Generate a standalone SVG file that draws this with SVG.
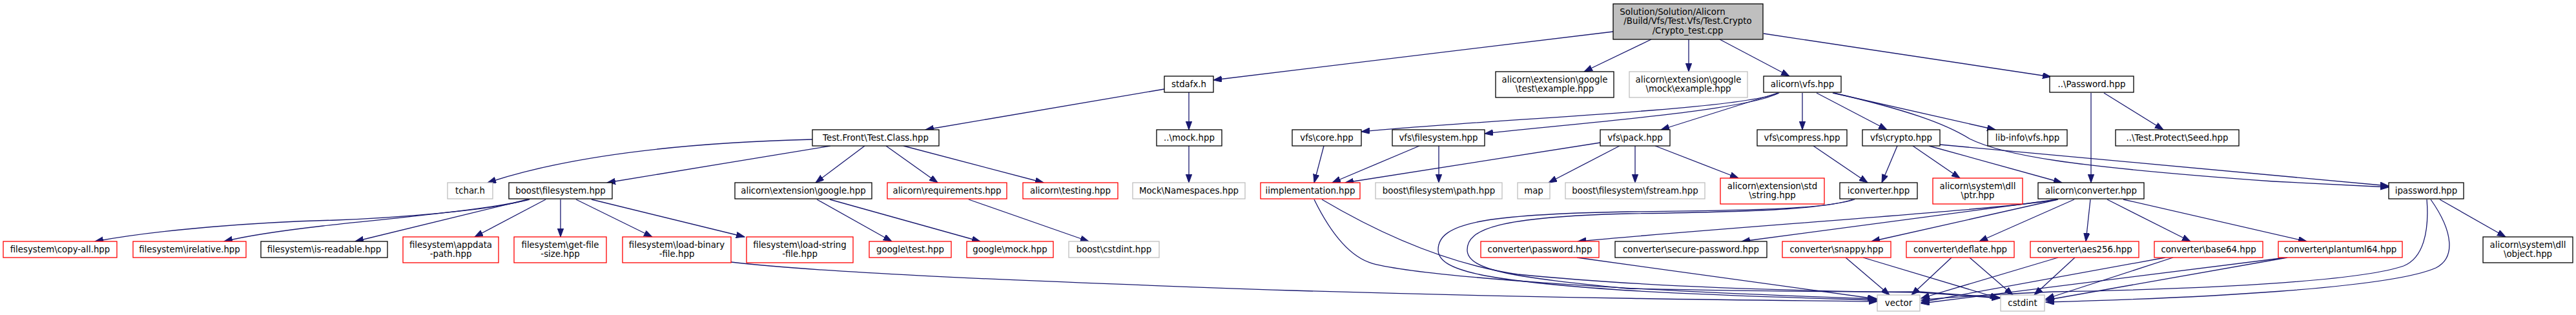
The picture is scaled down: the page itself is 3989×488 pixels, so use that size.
<svg xmlns="http://www.w3.org/2000/svg" width="3989" height="488" viewBox="0 0 3989 488">
<style>
.n rect{fill:#fff;stroke:#000;stroke-width:1.3}
.n.r rect{stroke:#ff0000}
.n.g rect{stroke:#bfbfbf}
.n.m rect{fill:#bfbfbf}
.n text{font-family:"DejaVu Sans",sans-serif;font-size:13.33px;fill:#000;text-anchor:middle}
#edges path{fill:none;stroke:#191970;stroke-width:1.3;marker-end:url(#a)}
</style>
<defs>
<marker id="a" markerUnits="userSpaceOnUse" markerWidth="14" markerHeight="10" refX="13" refY="4.7" orient="auto">
<path d="M0,0 L13,4.7 L0,9.4 z" fill="#191970" stroke="#191970" stroke-width="1"/>
</marker>
</defs>
<rect width="3989" height="488" fill="#fff"/>
<g id="edges">
<path d="M2498,49 L1879,124"/>
<path d="M2557,61 L2453,111"/>
<path d="M2615,61 L2615,111"/>
<path d="M2663,61 L2771,118"/>
<path d="M2731,52 L3176,119"/>
<path d="M1803,138 L1433,201"/>
<path d="M1841,143 L1841,201"/>
<path d="M1841,226 L1841,283"/>
<path d="M1258,216 C1100,220 900,235 755,283"/>
<path d="M1286,226 L940,283"/>
<path d="M1339,226 L1263,283"/>
<path d="M1372,226 L1452,283"/>
<path d="M1399,226 L1616,283"/>
<path d="M818,309 C760,327 600,338 520,341 C400,344 250,355 147,374"/>
<path d="M820,309 C760,325 560,343 500,350 C430,358 380,366 347,374"/>
<path d="M817,309 L550,374"/>
<path d="M845,309 L735,367"/>
<path d="M868,309 L868,367"/>
<path d="M892,309 L1010,367"/>
<path d="M916,309 L1153,367"/>
<path d="M1265,309 L1381,374"/>
<path d="M1285,309 L1518,374"/>
<path d="M1500,309 L1686,374"/>
<path d="M1132,406 C1250,420 1500,433 2000,450 C2400,462 2700,465 2907,467"/>
<path d="M2753,144 C2700,170 2300,185 2108,204"/>
<path d="M2755,144 C2700,172 2450,190 2299,207"/>
<path d="M2753,144 L2572,201"/>
<path d="M2791,144 L2791,201"/>
<path d="M2813,144 L2922,201"/>
<path d="M2838,144 L3090,201"/>
<path d="M2840,144 C2950,170 3010,190 3050,215 C3100,240 3200,258 3520,281 L3699,290"/>
<path d="M3004,224 L3699,288"/>
<path d="M2987,226 L3193,283"/>
<path d="M2938,226 L2914,283"/>
<path d="M2962,226 L3035,276"/>
<path d="M2808,226 L2892,283"/>
<path d="M2478,221 L2083,283"/>
<path d="M2508,226 L2398,283"/>
<path d="M2532,226 L2532,283"/>
<path d="M2563,226 L2692,276"/>
<path d="M2050,226 L2035,283"/>
<path d="M2198,226 L2063,283"/>
<path d="M2228,226 L2228,283"/>
<path d="M3238,144 L3238,283"/>
<path d="M3258,144 L3350,201"/>
<path d="M3212,309 L3065,374"/>
<path d="M3237,309 L3230,374"/>
<path d="M3263,309 L3392,374"/>
<path d="M3288,309 L3572,374"/>
<path d="M3187,309 L2898,374"/>
<path d="M3186,309 L2697,374"/>
<path d="M3185,309 C3100,325 2700,350 2443,374"/>
<path d="M3778,309 L3880,367"/>
<path d="M2035,309 C2060,360 2090,398 2125,408 C2200,428 2500,450 2907,463"/>
<path d="M2047,309 C2150,370 2250,410 2350,425 C2600,450 2900,452 2973,453 L3097,462"/>
<path d="M2872,309 C2830,322 2750,326 2520,328 C2300,332 2227,345 2227,387 C2227,420 2300,435 2520,450 C2700,460 2850,463 2907,465"/>
<path d="M2869,309 C2830,322 2750,328 2520,331 C2320,336 2272,355 2272,387 C2272,420 2350,430 2520,447 C2800,453 2950,452 2973,452 L3097,461"/>
<path d="M2442,399 L2905,463"/>
<path d="M2858,399 L2926,457"/>
<path d="M2885,399 L3095,462"/>
<path d="M3022,399 L2960,457"/>
<path d="M3050,399 L3117,457"/>
<path d="M3187,399 L2975,462"/>
<path d="M3213,399 L3150,457"/>
<path d="M3353,399 L2975,468"/>
<path d="M3365,399 L3168,463"/>
<path d="M3540,399 L2975,470"/>
<path d="M3542,399 L3168,465"/>
<path d="M3758,309 C3762,360 3752,400 3722,412 C3650,437 3400,448 3180,452 C3100,455 3000,462 2975,465"/>
<path d="M3764,309 C3800,360 3802,400 3772,415 C3700,447 3400,462 3168,468"/>
</g>
<g id="main" class="n m"><rect x="2498" y="6" width="232" height="55"/><text x="2590" y="22.5">Solution/Solution/Alicorn</text><text x="2613.5" y="37">/Build/Vfs/Test.Vfs/Test.Crypto</text><text x="2613.5" y="51.5">/Crypto_test.cpp</text></g>
<g id="stdafx" class="n"><rect x="1803" y="118" width="76" height="25"/><text x="1841" y="134.5">stdafx.h</text></g>
<g id="gtest_example" class="n"><rect x="2316" y="111" width="183" height="40"/><text x="2407.5" y="127.5">alicorn\extension\google</text><text x="2407.5" y="141.5">\test\example.hpp</text></g>
<g id="gmock_example" class="n g"><rect x="2523" y="111" width="183" height="40"/><text x="2614.5" y="127.5">alicorn\extension\google</text><text x="2614.5" y="141.5">\mock\example.hpp</text></g>
<g id="vfs" class="n"><rect x="2731" y="118" width="120" height="25"/><text x="2791" y="134.5">alicorn\vfs.hpp</text></g>
<g id="password_dd" class="n"><rect x="3174" y="118" width="130" height="25"/><text x="3239" y="134.5">..\Password.hpp</text></g>
<g id="testclass" class="n"><rect x="1258" y="201" width="196" height="25"/><text x="1356" y="217.5">Test.Front\Test.Class.hpp</text></g>
<g id="mock_dd" class="n"><rect x="1791" y="201" width="101" height="25"/><text x="1841.5" y="217.5">..\mock.hpp</text></g>
<g id="vfs_core" class="n"><rect x="2001" y="201" width="107" height="25"/><text x="2054.5" y="217.5">vfs\core.hpp</text></g>
<g id="vfs_filesystem" class="n"><rect x="2156" y="201" width="143" height="25"/><text x="2227.5" y="217.5">vfs\filesystem.hpp</text></g>
<g id="vfs_pack" class="n"><rect x="2478" y="201" width="108" height="25"/><text x="2532" y="217.5">vfs\pack.hpp</text></g>
<g id="vfs_compress" class="n"><rect x="2721" y="201" width="139" height="25"/><text x="2790.5" y="217.5">vfs\compress.hpp</text></g>
<g id="vfs_crypto" class="n"><rect x="2884" y="201" width="120" height="25"/><text x="2944" y="217.5">vfs\crypto.hpp</text></g>
<g id="libinfo_vfs" class="n"><rect x="3078" y="201" width="123" height="25"/><text x="3139.5" y="217.5">lib-info\vfs.hpp</text></g>
<g id="seed" class="n"><rect x="3276" y="201" width="191" height="25"/><text x="3371.5" y="217.5">..\Test.Protect\Seed.hpp</text></g>
<g id="tchar" class="n g"><rect x="693" y="283" width="70" height="25"/><text x="728" y="299.5">tchar.h</text></g>
<g id="boost_filesystem" class="n"><rect x="788" y="283" width="160" height="25"/><text x="868" y="299.5">boost\filesystem.hpp</text></g>
<g id="ext_google" class="n"><rect x="1138" y="283" width="212" height="25"/><text x="1244" y="299.5">alicorn\extension\google.hpp</text></g>
<g id="requirements" class="n r"><rect x="1374" y="283" width="185" height="25"/><text x="1466.5" y="299.5">alicorn\requirements.hpp</text></g>
<g id="testing" class="n r"><rect x="1584" y="283" width="147" height="25"/><text x="1657.5" y="299.5">alicorn\testing.hpp</text></g>
<g id="mock_namespaces" class="n g"><rect x="1754" y="283" width="174" height="25"/><text x="1841" y="299.5">Mock\Namespaces.hpp</text></g>
<g id="iimplementation" class="n r"><rect x="1952" y="283" width="154" height="25"/><text x="2029" y="299.5">iimplementation.hpp</text></g>
<g id="boost_fs_path" class="n g"><rect x="2130" y="283" width="196" height="25"/><text x="2228" y="299.5">boost\filesystem\path.hpp</text></g>
<g id="map" class="n g"><rect x="2350" y="283" width="50" height="25"/><text x="2375" y="299.5">map</text></g>
<g id="boost_fs_fstream" class="n g"><rect x="2424" y="283" width="216" height="25"/><text x="2532" y="299.5">boost\filesystem\fstream.hpp</text></g>
<g id="ext_std_string" class="n r"><rect x="2664" y="276" width="161" height="40"/><text x="2744.5" y="292.5">alicorn\extension\std</text><text x="2744.5" y="306.5">\string.hpp</text></g>
<g id="iconverter" class="n"><rect x="2849" y="283" width="120" height="25"/><text x="2909" y="299.5">iconverter.hpp</text></g>
<g id="dll_ptr" class="n r"><rect x="2993" y="276" width="139" height="40"/><text x="3062.5" y="292.5">alicorn\system\dll</text><text x="3062.5" y="306.5">\ptr.hpp</text></g>
<g id="converter" class="n"><rect x="3156" y="283" width="164" height="25"/><text x="3238" y="299.5">alicorn\converter.hpp</text></g>
<g id="ipassword" class="n"><rect x="3699" y="283" width="116" height="25"/><text x="3757" y="299.5">ipassword.hpp</text></g>
<g id="copy_all" class="n r"><rect x="5" y="374" width="176" height="25"/><text x="93" y="390.5">filesystem\copy-all.hpp</text></g>
<g id="irelative" class="n r"><rect x="206" y="374" width="175" height="25"/><text x="293.5" y="390.5">filesystem\irelative.hpp</text></g>
<g id="is_readable" class="n"><rect x="404" y="374" width="196" height="25"/><text x="502" y="390.5">filesystem\is-readable.hpp</text></g>
<g id="appdata_path" class="n r"><rect x="624" y="367" width="148" height="40"/><text x="698" y="383.5">filesystem\appdata</text><text x="698" y="397.5">-path.hpp</text></g>
<g id="get_file_size" class="n r"><rect x="796" y="367" width="143" height="40"/><text x="867.5" y="383.5">filesystem\get-file</text><text x="867.5" y="397.5">-size.hpp</text></g>
<g id="load_binary" class="n r"><rect x="964" y="367" width="168" height="40"/><text x="1048" y="383.5">filesystem\load-binary</text><text x="1048" y="397.5">-file.hpp</text></g>
<g id="load_string" class="n r"><rect x="1156" y="367" width="165" height="40"/><text x="1238.5" y="383.5">filesystem\load-string</text><text x="1238.5" y="397.5">-file.hpp</text></g>
<g id="google_test" class="n r"><rect x="1346" y="374" width="127" height="25"/><text x="1409.5" y="390.5">google\test.hpp</text></g>
<g id="google_mock" class="n r"><rect x="1497" y="374" width="134" height="25"/><text x="1564" y="390.5">google\mock.hpp</text></g>
<g id="boost_cstdint" class="n g"><rect x="1655" y="374" width="140" height="25"/><text x="1725" y="390.5">boost\cstdint.hpp</text></g>
<g id="conv_password" class="n r"><rect x="2293" y="374" width="183" height="25"/><text x="2384.5" y="390.5">converter\password.hpp</text></g>
<g id="conv_secure" class="n"><rect x="2501" y="374" width="235" height="25"/><text x="2618.5" y="390.5">converter\secure-password.hpp</text></g>
<g id="conv_snappy" class="n r"><rect x="2760" y="374" width="168" height="25"/><text x="2844" y="390.5">converter\snappy.hpp</text></g>
<g id="conv_deflate" class="n r"><rect x="2952" y="374" width="167" height="25"/><text x="3035.5" y="390.5">converter\deflate.hpp</text></g>
<g id="conv_aes256" class="n r"><rect x="3144" y="374" width="168" height="25"/><text x="3228" y="390.5">converter\aes256.hpp</text></g>
<g id="conv_base64" class="n r"><rect x="3336" y="374" width="168" height="25"/><text x="3420" y="390.5">converter\base64.hpp</text></g>
<g id="conv_plantuml64" class="n r"><rect x="3528" y="374" width="192" height="25"/><text x="3624" y="390.5">converter\plantuml64.hpp</text></g>
<g id="dll_object" class="n"><rect x="3845" y="367" width="139" height="40"/><text x="3914.5" y="383.5">alicorn\system\dll</text><text x="3914.5" y="397.5">\object.hpp</text></g>
<g id="vector" class="n g"><rect x="2907" y="457" width="66" height="25"/><text x="2940" y="473.5">vector</text></g>
<g id="cstdint" class="n g"><rect x="3098" y="457" width="68" height="25"/><text x="3132" y="473.5">cstdint</text></g>
</svg>
